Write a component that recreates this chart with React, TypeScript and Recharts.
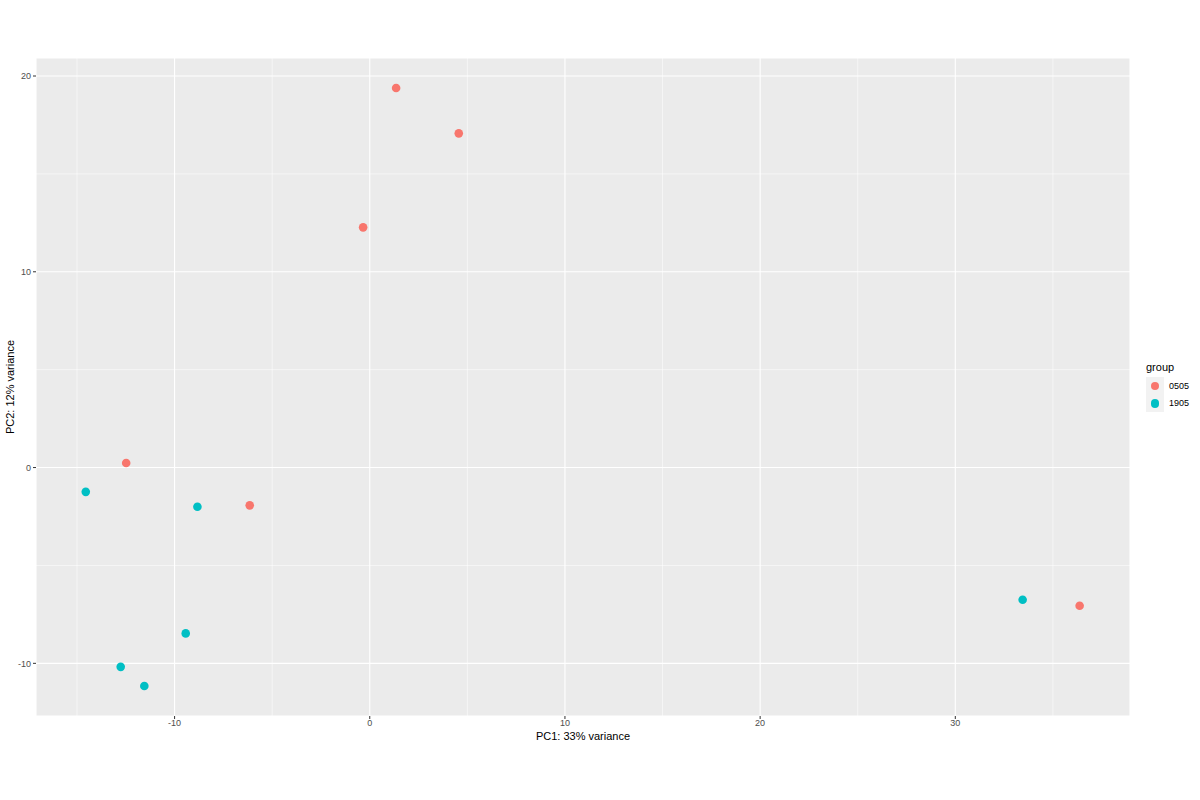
import { CartesianGrid, ReferenceLine, Scatter, ScatterChart, XAxis, YAxis } from "recharts";

const group0505 = [
  { x: 1.35, y: 19.39 },
  { x: 4.56, y: 17.07 },
  { x: -0.34, y: 12.27 },
  { x: -12.48, y: 0.23 },
  { x: -6.15, y: -1.93 },
  { x: 36.37, y: -7.06 },
];

const group1905 = [
  { x: -14.55, y: -1.24 },
  { x: -8.83, y: -2.0 },
  { x: -9.43, y: -8.47 },
  { x: -12.76, y: -10.18 },
  { x: -11.55, y: -11.16 },
  { x: 33.45, y: -6.75 },
];

const xTicks = [-10, 0, 10, 20, 30];
const yTicks = [-10, 0, 10, 20];
const xMinor = [-15, -5, 5, 15, 25, 35];
const yMinor = [-5, 5, 15];

const groups = [
  { name: "0505", color: "#F8766D", data: group0505 },
  { name: "1905", color: "#00BFC4", data: group1905 },
];

const FONT = '"Liberation Sans", Arial, sans-serif';

const dot = (color: string) => (props: any) =>
  <circle cx={props.cx} cy={props.cy} r={4.3} fill={color} />;

const XTitle = (props: any) => {
  const vb = props.viewBox;
  return (
    <text x={vb.x + vb.width / 2} y={740} textAnchor="middle" fontSize={11} fill="#000" fontFamily={FONT}>
      PC1: 33% variance
    </text>
  );
};

const YTitle = (props: any) => {
  const vb = props.viewBox;
  const cy = vb.y + vb.height / 2;
  return (
    <text x={14} y={cy} transform={`rotate(-90 14 ${cy})`} textAnchor="middle" fontSize={11} fill="#000" fontFamily={FONT}>
      PC2: 12% variance
    </text>
  );
};

export default function App() {
  const tick = { fontSize: 9, fill: "#4D4D4D", fontFamily: FONT };
  return (
    <div style={{ position: "absolute", left: 0, top: 0, width: 1200, height: 800, background: "#fff" }}>
      <ScatterChart width={1200} height={800} margin={{ top: 58, right: 70, bottom: 54, left: 0 }}>
        <CartesianGrid fill="#EBEBEB" stroke="#fff" strokeWidth={1.1} />
        {xMinor.map((v) => (
          <ReferenceLine key={"x" + v} x={v} stroke="#fff" strokeWidth={0.55} />
        ))}
        {yMinor.map((v) => (
          <ReferenceLine key={"y" + v} y={v} stroke="#fff" strokeWidth={0.55} />
        ))}
        <XAxis
          type="number"
          dataKey="x"
          domain={[-17.1, 38.95]}
          ticks={xTicks}
          allowDataOverflow
          height={30}
          axisLine={false}
          tickSize={3}
          tickMargin={1}
          tickLine={{ stroke: "#333" }}
          tick={tick}
          label={<XTitle />}
        />
        <YAxis
          type="number"
          dataKey="y"
          domain={[-12.69, 20.92]}
          ticks={yTicks}
          allowDataOverflow
          width={36}
          axisLine={false}
          tickSize={3}
          tickMargin={2}
          tickLine={{ stroke: "#333" }}
          tick={tick}
          label={<YTitle />}
        />
        {groups.map((g) => (
          <Scatter key={g.name} name={g.name} data={g.data} shape={dot(g.color)} isAnimationActive={false} />
        ))}
      </ScatterChart>
      <div style={{ position: "absolute", left: 1146, top: 360, fontFamily: FONT, fontSize: 11, color: "#000", lineHeight: "14px" }}>
        group
      </div>
      <div style={{ position: "absolute", left: 1146, top: 377, width: 18, height: 35, background: "#F2F2F2" }} />
      {groups.map((g, i) => (
        <div key={g.name}>
          <div
            style={{
              position: "absolute",
              left: 1150.5,
              top: 382 + i * 17.3,
              width: 8.4,
              height: 8.4,
              borderRadius: "50%",
              background: g.color,
            }}
          />
          <div
            style={{
              position: "absolute",
              left: 1169,
              top: 380 + i * 17.3,
              fontFamily: FONT,
              fontSize: 9,
              lineHeight: "12px",
              color: "#000",
            }}
          >
            {g.name}
          </div>
        </div>
      ))}
    </div>
  );
}
